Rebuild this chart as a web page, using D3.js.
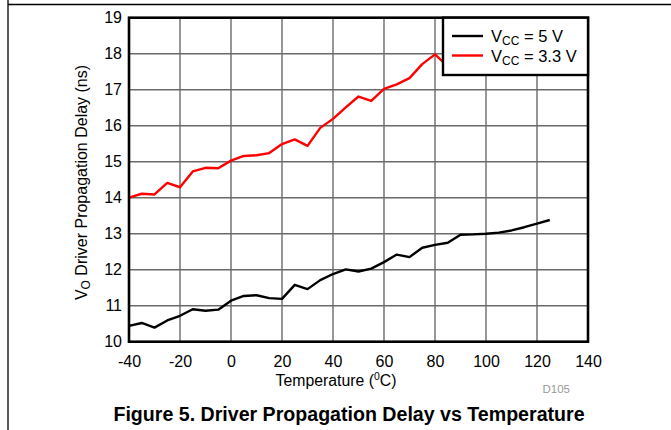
<!DOCTYPE html>
<html>
<head>
<meta charset="utf-8">
<script src="https://cdn.jsdelivr.net/npm/d3@7"></script>
<style>
  html, body { margin: 0; padding: 0; background: #fff; }
  svg { display: block; font-family: "Liberation Sans", Arial, sans-serif; }
</style>
</head>
<body>
<svg id="chart" width="671" height="430"></svg>
<script>
// ---- data ----
const xTicks = [-40, -20, 0, 20, 40, 60, 80, 100, 120, 140];
const yTicks = [10, 11, 12, 13, 14, 15, 16, 17, 18, 19];

const tempRed = [-40, -35, -30, -25, -20, -15, -10, -5, 0, 5, 10, 15, 20, 25, 30, 35, 40, 45, 50, 55, 60, 65, 70, 75, 80, 85];
const delayVcc33 = [14.0, 14.11, 14.09, 14.41, 14.29, 14.73, 14.83, 14.82, 15.03, 15.16, 15.18, 15.24, 15.49, 15.62, 15.44, 15.94, 16.19, 16.51, 16.81, 16.69, 17.02, 17.15, 17.32, 17.71, 17.98, 17.65];

const tempBlack = [-40, -35, -30, -25, -20, -15, -10, -5, 0, 5, 10, 15, 20, 25, 30, 35, 40, 45, 50, 55, 60, 65, 70, 75, 80, 85, 90, 95, 100, 105, 110, 115, 120, 125];
const delayVcc5 = [10.44, 10.52, 10.39, 10.59, 10.72, 10.90, 10.86, 10.89, 11.14, 11.27, 11.29, 11.21, 11.19, 11.58, 11.46, 11.71, 11.88, 12.01, 11.95, 12.03, 12.21, 12.42, 12.35, 12.61, 12.69, 12.75, 12.97, 12.98, 13.0, 13.03, 13.09, 13.18, 13.28, 13.38];

const seriesNames = ["5 V", "3.3 V"];
const seriesColors = ["#000000", "#ff0000"];

// ---- layout ----
const svg = d3.select("#chart");
const L = 129, R = 588, T = 17.7, B = 341.7;
const FS = 16;

const x = d3.scaleLinear().domain([-40, 140]).range([L, R]);
const y = d3.scaleLinear().domain([10, 19]).range([B, T]);

// outer frame
svg.append("line").attr("x1", 8).attr("x2", 671).attr("y1", 4.5).attr("y2", 4.5)
  .attr("stroke", "#000").attr("stroke-width", 1.3);
svg.append("line").attr("x1", 8).attr("x2", 8).attr("y1", 0).attr("y2", 430)
  .attr("stroke", "#000").attr("stroke-width", 1.3);

// grid
const grid = svg.append("g");
grid.selectAll(".vg").data(xTicks.slice(1, -1)).join("line")
  .attr("x1", d => x(d)).attr("x2", d => x(d)).attr("y1", T).attr("y2", B)
  .attr("stroke", "#6a6a6a").attr("stroke-width", 1.4);
grid.selectAll(".hg").data(yTicks.slice(1, -1)).join("line")
  .attr("x1", L).attr("x2", R).attr("y1", d => y(d)).attr("y2", d => y(d))
  .attr("stroke", "#6a6a6a").attr("stroke-width", 1.4);

// axes (labels only)
const xAxis = d3.axisBottom(x).tickValues(xTicks).tickSize(0).tickPadding(0).tickFormat(d => String(d));
const gx = svg.append("g").attr("transform", `translate(0,${B})`).call(xAxis);
gx.select(".domain").remove();
gx.selectAll("text").attr("font-size", FS).attr("font-family", "Liberation Sans, Arial, sans-serif")
  .attr("fill", "#000").attr("dy", null).attr("y", 25.5);

const yAxis = d3.axisLeft(y).tickValues(yTicks).tickSize(0).tickPadding(7).tickFormat(d => String(d));
const gy = svg.append("g").attr("transform", `translate(${L},0)`).call(yAxis);
gy.select(".domain").remove();
gy.selectAll("text").attr("font-size", FS).attr("font-family", "Liberation Sans, Arial, sans-serif")
  .attr("fill", "#000");

// lines
const line = d3.line().x(d => x(d[0])).y(d => y(d[1]));
svg.append("path").datum(d3.zip(tempBlack, delayVcc5))
  .attr("d", line).attr("fill", "none").attr("stroke", seriesColors[0]).attr("stroke-width", 2.4)
  .attr("stroke-linejoin", "round");
svg.append("path").datum(d3.zip(tempRed, delayVcc33))
  .attr("d", line).attr("fill", "none").attr("stroke", seriesColors[1]).attr("stroke-width", 2.4)
  .attr("stroke-linejoin", "round");

// plot border
svg.append("rect").attr("x", L).attr("y", T).attr("width", R - L).attr("height", B - T)
  .attr("fill", "none").attr("stroke", "#000").attr("stroke-width", 2.6);

// legend
const lg = svg.append("g");
lg.append("rect").attr("x", 443).attr("y", T).attr("width", R - 443).attr("height", 75 - T)
  .attr("fill", "#fff").attr("stroke", "#000").attr("stroke-width", 2.4);
seriesNames.forEach((name, i) => {
  const cy = 36 + i * 19.5;
  lg.append("line").attr("x1", 452).attr("x2", 483).attr("y1", cy).attr("y2", cy)
    .attr("stroke", seriesColors[i]).attr("stroke-width", 2.4);
  const t = lg.append("text").attr("x", 491).attr("y", cy + 6).attr("font-size", 16.5).attr("fill", "#000");
  t.append("tspan").text("V");
  t.append("tspan").attr("font-size", 12).attr("dy", 3).text("CC");
  t.append("tspan").attr("dy", -3).text(" = " + name);
});

// axis titles
const xt = svg.append("text").attr("x", 336).attr("y", 386).attr("text-anchor", "middle")
  .attr("font-size", 15.8).attr("fill", "#000");
xt.append("tspan").text("Temperature (");
xt.append("tspan").attr("font-size", 10.5).attr("dy", -6).text("0");
xt.append("tspan").attr("dy", 6).text("C)");

const yt = svg.append("text").attr("transform", "translate(87,182.5) rotate(-90)")
  .attr("text-anchor", "middle").attr("font-size", 16).attr("fill", "#000");
yt.append("tspan").text("V");
yt.append("tspan").attr("font-size", 12).attr("dy", 3).text("O");
yt.append("tspan").attr("dy", -3).text(" Driver Propagation Delay (ns)");

svg.append("text").attr("x", 570).attr("y", 393).attr("text-anchor", "end")
  .attr("font-size", 11.5).attr("fill", "#999").text("D105");

svg.append("text").attr("x", 349).attr("y", 421).attr("text-anchor", "middle")
  .attr("font-size", 19.6).attr("font-weight", "bold").attr("fill", "#000")
  .text("Figure 5. Driver Propagation Delay vs Temperature");
</script>
</body>
</html>
